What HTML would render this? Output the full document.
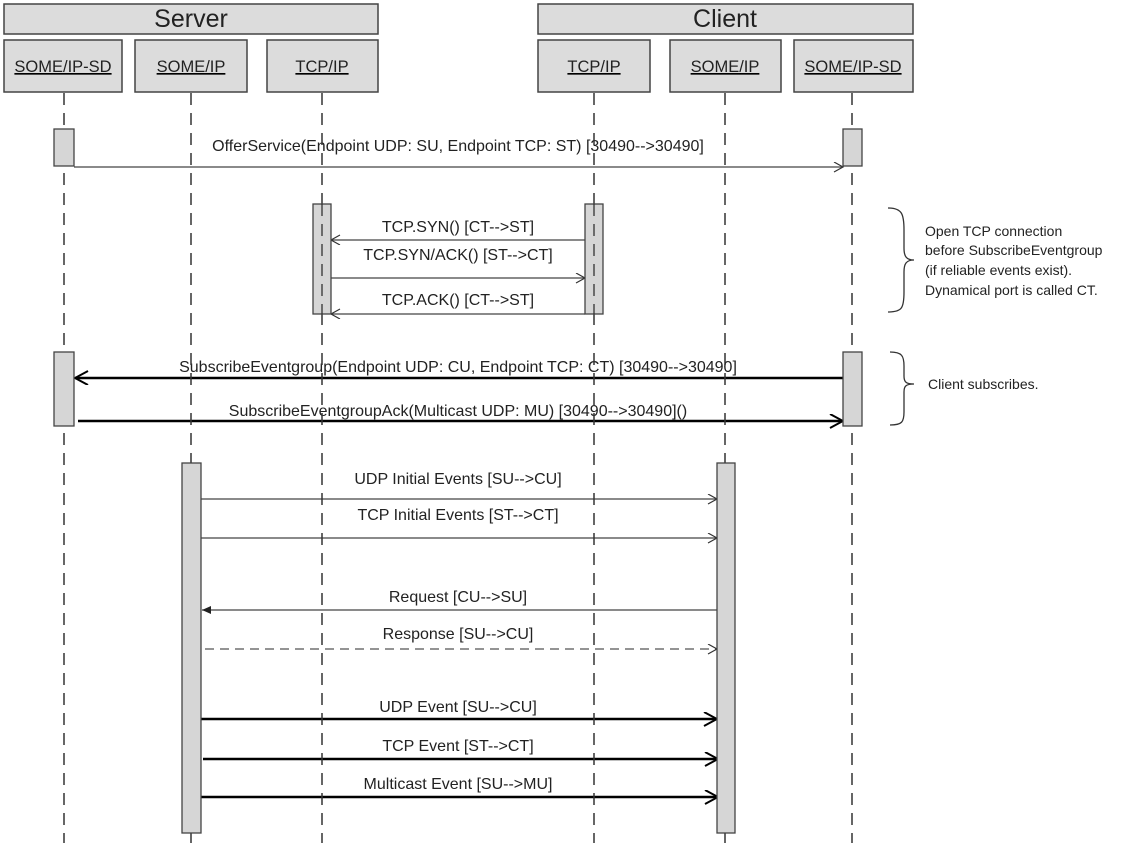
<!DOCTYPE html>
<html><head><meta charset="utf-8"><style>
html,body{margin:0;padding:0;background:#fff;}
svg{display:block;}
text{font-family:"Liberation Sans",Arial,sans-serif;fill:#222;}
</style></head><body>
<svg width="1142" height="843" viewBox="0 0 1142 843" xmlns="http://www.w3.org/2000/svg">
<defs>
<marker id="a" markerWidth="12" markerHeight="12" refX="10" refY="5" orient="auto" markerUnits="userSpaceOnUse"><path d="M1,0 L10,5 L1,10" fill="none" stroke="#333" stroke-width="1.2"/></marker>
<marker id="ab" markerWidth="16" markerHeight="16" refX="14" refY="7" orient="auto" markerUnits="userSpaceOnUse"><path d="M1,0 L14,7 L1,14" fill="none" stroke="#000" stroke-width="2"/></marker>
<marker id="af" markerWidth="10" markerHeight="10" refX="9" refY="4" orient="auto" markerUnits="userSpaceOnUse"><path d="M0,0 L9,4 L0,8 Z" fill="#222"/></marker>
</defs>
<g fill="#dcdcdc" stroke="#444" stroke-width="1.5">
<rect x="4" y="4" width="374" height="30"/>
<rect x="538" y="4" width="375" height="30"/>
<rect x="4" y="40" width="118" height="52"/>
<rect x="135" y="40" width="112" height="52"/>
<rect x="267" y="40" width="111" height="52"/>
<rect x="538" y="40" width="112" height="52"/>
<rect x="670" y="40" width="111" height="52"/>
<rect x="794" y="40" width="119" height="52"/>
</g>
<g font-size="25" text-anchor="middle">
<text x="191" y="27">Server</text>
<text x="725" y="27">Client</text>
</g>
<g font-size="16.5" text-anchor="middle" text-decoration="underline">
<text x="63" y="72">SOME/IP-SD</text>
<text x="191" y="72">SOME/IP</text>
<text x="322" y="72">TCP/IP</text>
<text x="594" y="72">TCP/IP</text>
<text x="725" y="72">SOME/IP</text>
<text x="853" y="72">SOME/IP-SD</text>
</g>
<g font-size="16" text-anchor="middle">
<line x1="74" y1="167" x2="843" y2="167" stroke="#444" stroke-width="1.3" marker-end="url(#a)"/>
<text x="458" y="151">OfferService(Endpoint UDP: SU, Endpoint TCP: ST) [30490--&gt;30490]</text>
<line x1="585" y1="240" x2="331" y2="240" stroke="#444" stroke-width="1.3" marker-end="url(#a)"/>
<text x="458" y="232">TCP.SYN() [CT--&gt;ST]</text>
<line x1="331" y1="278" x2="585" y2="278" stroke="#444" stroke-width="1.3" marker-end="url(#a)"/>
<text x="458" y="260">TCP.SYN/ACK() [ST--&gt;CT]</text>
<line x1="585" y1="314" x2="331" y2="314" stroke="#444" stroke-width="1.3" marker-end="url(#a)"/>
<text x="458" y="305">TCP.ACK() [CT--&gt;ST]</text>
<line x1="843" y1="378" x2="75" y2="378" stroke="#000" stroke-width="2.5" marker-end="url(#ab)"/>
<text x="458" y="372">SubscribeEventgroup(Endpoint UDP: CU, Endpoint TCP: CT) [30490--&gt;30490]</text>
<line x1="78" y1="421" x2="843" y2="421" stroke="#000" stroke-width="2.5" marker-end="url(#ab)"/>
<text x="458" y="416">SubscribeEventgroupAck(Multicast UDP: MU) [30490--&gt;30490]()</text>
<line x1="201" y1="499" x2="717" y2="499" stroke="#444" stroke-width="1.3" marker-end="url(#a)"/>
<text x="458" y="484">UDP Initial Events [SU--&gt;CU]</text>
<line x1="201" y1="538" x2="717" y2="538" stroke="#444" stroke-width="1.3" marker-end="url(#a)"/>
<text x="458" y="520">TCP Initial Events [ST--&gt;CT]</text>
<line x1="717" y1="610" x2="202" y2="610" stroke="#444" stroke-width="1.3" marker-end="url(#af)"/>
<text x="458" y="602">Request [CU--&gt;SU]</text>
<line x1="205" y1="649" x2="717" y2="649" stroke="#555" stroke-width="1.3" stroke-dasharray="9,6" marker-end="url(#a)"/>
<text x="458" y="639">Response [SU--&gt;CU]</text>
<line x1="201" y1="719" x2="717" y2="719" stroke="#000" stroke-width="2.5" marker-end="url(#ab)"/>
<text x="458" y="712">UDP Event [SU--&gt;CU]</text>
<line x1="203" y1="759" x2="718" y2="759" stroke="#000" stroke-width="2.5" marker-end="url(#ab)"/>
<text x="458" y="751">TCP Event [ST--&gt;CT]</text>
<line x1="201" y1="797" x2="718" y2="797" stroke="#000" stroke-width="2.5" marker-end="url(#ab)"/>
<text x="458" y="789">Multicast Event [SU--&gt;MU]</text>
</g>
<g stroke="#333" stroke-width="1.5" stroke-dasharray="12,8">
<line x1="64" y1="93" x2="64" y2="843"/>
<line x1="191" y1="93" x2="191" y2="843"/>
<line x1="322" y1="93" x2="322" y2="843"/>
<line x1="594" y1="93" x2="594" y2="843"/>
<line x1="725" y1="93" x2="725" y2="843"/>
<line x1="852" y1="93" x2="852" y2="843"/>
</g>
<g fill="#d6d6d6" stroke="#444" stroke-width="1.3">
<rect x="54" y="129" width="20" height="37"/>
<rect x="843" y="129" width="19" height="37"/>
<rect x="54" y="352" width="20" height="74"/>
<rect x="843" y="352" width="19" height="74"/>
<rect x="182" y="463" width="19" height="370"/>
<rect x="717" y="463" width="18" height="370"/>
<rect x="313" y="204" width="18" height="110"/>
<rect x="585" y="204" width="18" height="110"/>
</g>
<g stroke="#333" stroke-width="1.3" stroke-dasharray="12,8">
<line x1="322" y1="204" x2="322" y2="314"/>
<line x1="594" y1="204" x2="594" y2="314"/>
</g>
<g fill="none" stroke="#333" stroke-width="1.3">
<path d="M888,208 C902,208 904,214 904,230 L904,248 C904,256 906,260 914,260 C906,260 904,264 904,272 L904,292 C904,308 902,312 888,312"/>
<path d="M890,352 C902,352 904,356 904,366 L904,376 C904,382 906,384 914,384 C906,384 904,386 904,392 L904,412 C904,422 902,425 890,425"/>
</g>
<g font-size="14">
<text x="925" y="236">Open TCP connection</text>
<text x="925" y="255">before SubscribeEventgroup</text>
<text x="925" y="275">(if reliable events exist).</text>
<text x="925" y="295">Dynamical port is called CT.</text>
<text x="928" y="389">Client subscribes.</text>
</g>
</svg>
</body></html>
